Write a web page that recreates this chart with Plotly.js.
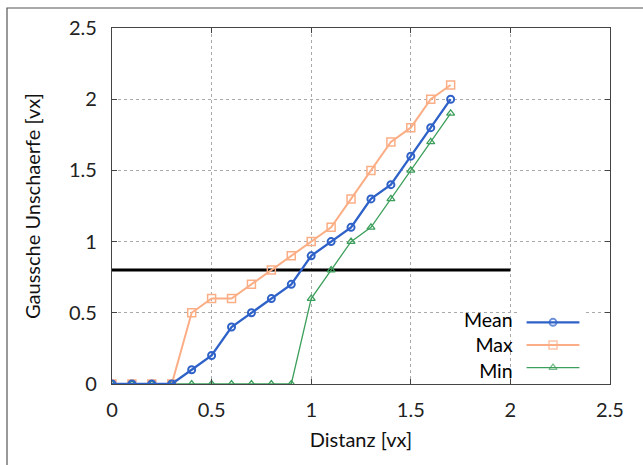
<!DOCTYPE html>
<html>
<head>
<meta charset="utf-8">
<script src="https://cdn.plot.ly/plotly-3.0.1.min.js"></script>
<style>html,body{margin:0;padding:0;background:#fff;}#chart{width:643px;height:465px;}</style>
</head>
<body>
<div id="chart"></div>
<script>
const distanz = [0, 0.1, 0.2, 0.3, 0.4, 0.5, 0.6, 0.7, 0.8, 0.9, 1.0, 1.1, 1.2, 1.3, 1.4, 1.5, 1.6, 1.7];
const meanVals = [0, 0, 0, 0, 0.1, 0.2, 0.4, 0.5, 0.6, 0.7, 0.9, 1.0, 1.1, 1.3, 1.4, 1.6, 1.8, 2.0];
const maxVals  = [0, 0, 0, 0, 0.5, 0.6, 0.6, 0.7, 0.8, 0.9, 1.0, 1.1, 1.3, 1.5, 1.7, 1.8, 2.0, 2.1];
const minVals  = [0, 0, 0, 0, 0, 0, 0, 0, 0, 0, 0.6, 0.8, 1.0, 1.1, 1.3, 1.5, 1.7, 1.9];
const thresholdX = [0, 2];
const thresholdY = [0.8, 0.8];
const seriesNames = ["Mean", "Max", "Min"];
const tickVals = [0, 0.5, 1, 1.5, 2, 2.5];
const tickText = ["0", "0.5", "1", "1.5", "2", "2.5"];

const FONT = "Lato, Open Sans, sans-serif";
const cMean = "#2f62c8", cMax = "#fbae85", cMin = "#3d9f5c";

const traces = [
  {x: thresholdX, y: thresholdY, mode: "lines", line: {color: "#000", width: 3}, hoverinfo: "skip"},
  {x: distanz, y: minVals, mode: "lines+markers", name: seriesNames[2],
   line: {color: cMin, width: 1.3}, marker: {symbol: "triangle-up-open", size: 7, color: cMin, line: {width: 1.3}}},
  {x: distanz, y: maxVals, mode: "lines+markers", name: seriesNames[1],
   line: {color: cMax, width: 2}, marker: {symbol: "square-open", size: 8, color: cMax, line: {width: 1.5}}},
  {x: distanz, y: meanVals, mode: "lines+markers", name: seriesNames[0],
   line: {color: cMean, width: 2.3}, marker: {symbol: "circle-open", size: 7, color: cMean, line: {width: 2}}},
  // legend samples on an overlay axis
  {x: [0.1, 0.5, 0.9], y: [2.5, 2.5, 2.5], xaxis: "x2", yaxis: "y2", mode: "lines+markers",
   line: {color: cMean, width: 2.3}, marker: {symbol: "circle-open", size: [0, 7, 0], color: cMean, line: {width: 2}}},
  {x: [0.1, 0.5, 0.9], y: [1.5, 1.5, 1.5], xaxis: "x2", yaxis: "y2", mode: "lines+markers",
   line: {color: cMax, width: 2}, marker: {symbol: "square-open", size: [0, 8, 0], color: cMax, line: {width: 1.5}}},
  {x: [0.1, 0.5, 0.9], y: [0.5, 0.5, 0.5], xaxis: "x2", yaxis: "y2", mode: "lines+markers",
   line: {color: cMin, width: 1.3}, marker: {symbol: "triangle-up-open", size: [0, 7, 0], color: cMin, line: {width: 1.3}}}
];

// legend region in paper coords (plot area: x 112..610, y 28..384)
const pw = 498, ph = 356;
const lx0 = (520 - 112) / pw, lx1 = (586 - 112) / pw;
const ly0 = (384 - 379) / ph, ly1 = (384 - 311) / ph;

const layout = {
  width: 643, height: 465,
  margin: {l: 112, r: 33, t: 28, b: 81},
  paper_bgcolor: "#fff", plot_bgcolor: "#fff",
  showlegend: false,
  font: {family: FONT, color: "#222"},
  xaxis: {
    range: [0, 2.5], tickvals: tickVals, ticktext: tickText,
    showline: true, linecolor: "#444", linewidth: 1.2, mirror: "ticks",
    ticks: "inside", ticklen: 5, tickcolor: "#444",
    showgrid: true, gridcolor: "#aaa", griddash: "dot", gridwidth: 1,
    zeroline: false, tickfont: {size: 20, color: "#222"}, ticklabelstandoff: 8,
    title: {text: "Distanz [vx]", font: {size: 20, color: "#111"}, standoff: 12}
  },
  yaxis: {
    range: [0, 2.5], tickvals: tickVals, ticktext: tickText,
    showline: true, linecolor: "#444", linewidth: 1.2, mirror: "ticks",
    ticks: "inside", ticklen: 5, tickcolor: "#444",
    showgrid: true, gridcolor: "#aaa", griddash: "dot", gridwidth: 1,
    zeroline: false, tickfont: {size: 20, color: "#222"}, ticklabelstandoff: 10,
    title: {text: "Gaussche Unschaerfe [vx]", font: {size: 20, color: "#111"}, standoff: 22}
  },
  xaxis2: {domain: [lx0, lx1], range: [0, 1], visible: false, fixedrange: true, anchor: "y2"},
  yaxis2: {domain: [ly0, ly1], range: [0, 3], visible: false, fixedrange: true, anchor: "x2"},
  shapes: [
    {type: "rect", xref: "paper", yref: "paper", x0: (466 - 112) / pw, x1: (598 - 112) / pw,
     y0: (384 - 380) / ph, y1: (384 - 316) / ph, fillcolor: "#fff", line: {width: 0}, layer: "between"},
    {type: "rect", xref: "paper", yref: "paper", x0: (7 - 112) / pw, x1: 1.2,
     y0: -0.4, y1: (384 - 8) / ph, fillcolor: "rgba(0,0,0,0)", line: {color: "#555", width: 1.2}, layer: "below"}
  ],
  annotations: [
    {xref: "paper", yref: "paper", x: (514 - 112) / pw, y: (384 - 345) / ph, xanchor: "right", yanchor: "middle",
     align: "right", text: seriesNames.join("<br>"), showarrow: false, borderpad: 0,
     font: {size: 19.5, color: "#000"}}
  ]
};

Plotly.newPlot("chart", traces, layout, {displayModeBar: false, staticPlot: true});
</script>
</body>
</html>
